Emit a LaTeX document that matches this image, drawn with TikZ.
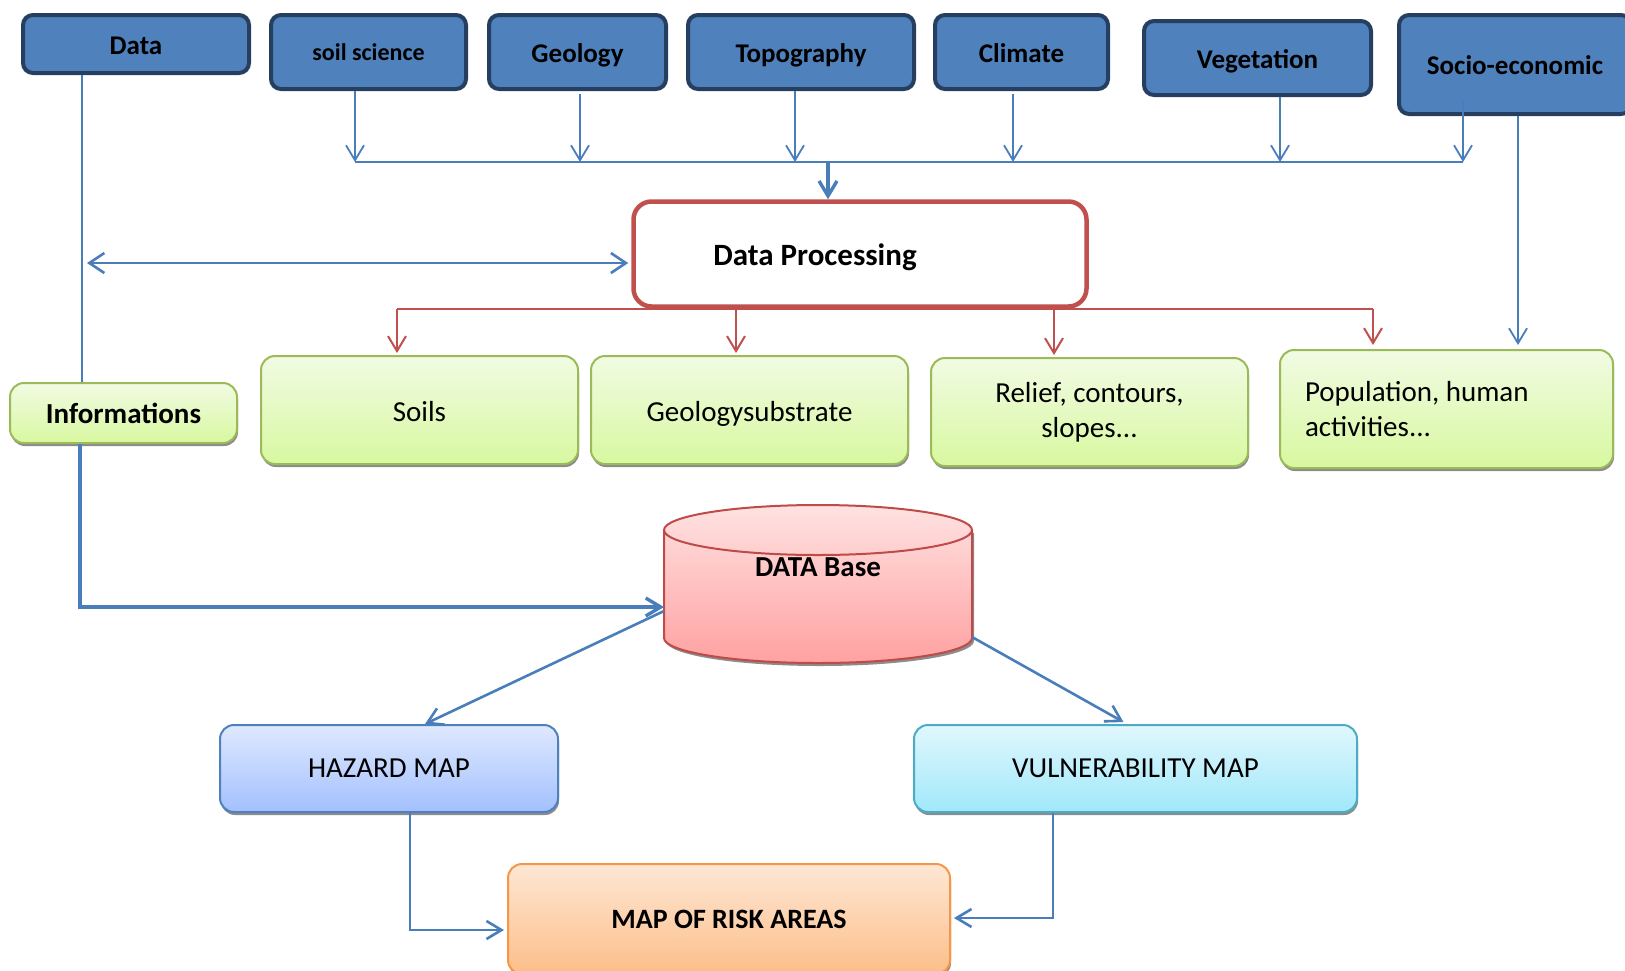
\documentclass[tikz,border=0pt]{standalone}
\usepackage{fontspec}
\setmainfont{Carlito}
\usetikzlibrary{arrows.meta,shadows}
\definecolor{topfill}{HTML}{4F81BD}
\definecolor{topborder}{HTML}{263F61}
\definecolor{lnblue}{HTML}{4A7EBB}
\definecolor{dpred}{HTML}{C0504D}
\definecolor{grnborder}{HTML}{9BBB59}
\definecolor{grntop}{HTML}{F1FBE3}
\definecolor{grnbot}{HTML}{D8F8A0}
\definecolor{dbtop}{HTML}{FFE2E2}
\definecolor{dbbot}{HTML}{FFA1A1}
\definecolor{dbborder}{HTML}{BE4B48}
\definecolor{haztop}{HTML}{DFE9FE}
\definecolor{hazbot}{HTML}{A3C0FE}
\definecolor{hazborder}{HTML}{4F81BD}
\definecolor{vultop}{HTML}{E1F7FD}
\definecolor{vulbot}{HTML}{A0E8FA}
\definecolor{vulborder}{HTML}{4BACC6}
\definecolor{risktop}{HTML}{FEE7D5}
\definecolor{riskbot}{HTML}{FCBE89}
\definecolor{riskborder}{HTML}{F79646}
\tikzset{
  topbox/.style={draw=topborder, fill=topfill, line width=4pt, rounded corners=10pt,
    inner sep=0pt, text height=24pt, text depth=4pt, font=\bfseries\fontsize{27}{32}\selectfont},
  shad/.style={drop shadow={shadow xshift=1pt, shadow yshift=-3pt, fill=black!45, opacity=1}},
  greenbox/.style={draw=grnborder, line width=2pt, rounded corners=14pt, top color=grntop,
    bottom color=grnbot, shad, inner sep=0pt, align=center, font=\fontsize{29}{35}\selectfont},
  mapbox/.style={line width=2pt, rounded corners=14pt, shad, inner sep=0pt,
    font=\fontsize{29}{35}\selectfont},
  barb/.style={-{Straight Barb[length=15pt,width=18pt]}},
  thinblue/.style={draw=lnblue, line width=1.8pt},
  midblue/.style={draw=lnblue, line width=2.6pt},
  thickblue/.style={draw=lnblue, line width=3.4pt},
  redln/.style={draw=dpred, line width=2pt},
}
\begin{document}
\begin{tikzpicture}[x=1pt,y=1pt]
\useasboundingbox (0,0) rectangle (1625,-970);
% top row
\node[topbox, minimum width=226pt, minimum height=58pt] (data) at (136,-44) {Data};
\node[topbox, minimum width=195pt, minimum height=74pt, font=\bfseries\fontsize{24}{28}\selectfont, text height=21pt, text depth=4pt] (soil) at (368.5,-52) {soil science};
\node[topbox, minimum width=177pt, minimum height=74pt] (geol) at (577.5,-52) {Geology};
\node[topbox, minimum width=226pt, minimum height=74pt] (topo) at (801,-52) {Topography};
\node[topbox, minimum width=173pt, minimum height=74pt] (clim) at (1021.5,-52) {Climate};
\node[topbox, minimum width=227pt, minimum height=74pt] (vege) at (1257.5,-58) {Vegetation};
\node[topbox, minimum width=232pt, minimum height=99pt] (socio) at (1515,-64.5) {Socio-economic};
% bus
\coordinate (b1) at (355,-162);
\coordinate (b2) at (580,-162);
\coordinate (b3) at (795,-162);
\coordinate (b4) at (1013,-162);
\coordinate (b5) at (1280,-162);
\coordinate (b6) at (1463,-162);
\coordinate (bm) at (828,-162);
\draw[thinblue, barb] (soil.south -| b1) -- (b1);
\draw[thinblue, barb] ([yshift=-3pt]geol.south -| b2) -- (b2);
\draw[thinblue, barb] (topo.south -| b3) -- (b3);
\draw[thinblue, barb] ([yshift=-3pt]clim.south -| b4) -- (b4);
\draw[thinblue, barb] (vege.south -| b5) -- (b5);
\draw[thinblue, barb] ([yshift=16pt]socio.south -| b6) -- (b6);
\draw[midblue] (b1) -- (b6);
% data processing
\node[draw=dpred, fill=white, line width=4.5pt, rounded corners=18pt, minimum width=453pt,
  minimum height=105pt, inner sep=0pt] (dp) at (860,-254) {};
\node[font=\bfseries\fontsize{31}{37}\selectfont, inner sep=0pt] (dptext) at (815,-257) {Data Processing};
\draw[thickblue, barb] (bm) -- (dp.north -| bm);
\coordinate (dleft) at (87,-263);
\draw[midblue, {Straight Barb[length=15pt,width=20pt]}-{Straight Barb[length=15pt,width=20pt]}, shorten >=3pt] (dleft) -- (dp.west |- dleft);
% green boxes
\node[greenbox, minimum width=227pt, minimum height=60pt, font=\bfseries\fontsize{29}{35}\selectfont] (inf) at (123.5,-413) {Informations};
\node[greenbox, minimum width=317pt, minimum height=108pt, text height=24pt, text depth=2pt] (soils) at (419.5,-410) {Soils};
\node[greenbox, minimum width=317pt, minimum height=108pt, text height=24pt, text depth=2pt] (geo) at (749.5,-410) {Geologysubstrate};
\node[greenbox, minimum width=317pt, minimum height=108pt] (relief) at (1089.5,-412) {Relief, contours,\\slopes...};
\node[greenbox, minimum width=333pt, minimum height=118pt, text width=283pt, align=flush left] (pop) at (1446.5,-409) {Population, human\\activities...};
% red connectors
\coordinate (r1) at (397,-309);
\coordinate (r2) at (736,-309);
\coordinate (r3) at (1054,-309);
\coordinate (r4) at (1373,-309);
\draw[redln] (r1) -- (r4);
\draw[redln, barb, shorten >=2pt] (r1) -- (soils.north -| r1);
\draw[redln, barb, shorten >=2pt] (r2) -- (geo.north -| r2);
\draw[redln, barb, shorten >=2pt] (r3) -- (relief.north -| r3);
\draw[redln, barb, shorten >=4pt] (r4) -- (pop.north -| r4);
% socio to population
\coordinate (sx) at (1518,0);
\draw[thinblue, barb, shorten >=4pt] (socio.south -| sx) -- (pop.north -| sx);
% data line
\coordinate (dx) at (82,0);
\draw[thinblue] (data.south -| dx) -- (inf.north -| dx);
% database cylinder
\fill[black!45] (666,-533) -- (666,-641) arc[start angle=180, end angle=360, x radius=154pt, y radius=25pt] -- (974,-533) -- cycle;
\path[draw=dbborder, line width=2pt, top color=dbtop, bottom color=dbbot]
  (664,-530) -- (664,-638) arc[start angle=180, end angle=360, x radius=154pt, y radius=25pt]
  -- (972,-530) arc[start angle=0, end angle=180, x radius=154pt, y radius=25pt] -- cycle;
\draw[dbborder, line width=2pt] (664,-530) arc[start angle=180, end angle=360, x radius=154pt, y radius=25pt];
\node[minimum width=308pt, minimum height=108pt, inner sep=0pt] (db) at (818,-584) {};
\node[font=\bfseries\fontsize{29}{35}\selectfont, inner sep=0pt] (dbtext) at (818,-567) {DATA Base};
% informations to database
\coordinate (ix) at (80,0);
\coordinate (dbin) at (664,-607);
\draw[thickblue, barb] (inf.south -| ix) |- (dbin);
% maps
\node[mapbox, draw=hazborder, top color=haztop, bottom color=hazbot, minimum width=338pt, minimum height=87pt] (haz) at (389,-768.5) {HAZARD MAP};
\node[mapbox, draw=vulborder, top color=vultop, bottom color=vulbot, minimum width=443pt, minimum height=87pt] (vul) at (1135.5,-768.5) {VULNERABILITY MAP};
\node[mapbox, draw=riskborder, top color=risktop, bottom color=riskbot, minimum width=442pt, minimum height=110pt, font=\bfseries\fontsize{28}{34}\selectfont] (risk) at (729,-919) {MAP OF RISK AREAS};
\coordinate (dbh) at (664,-611);
\coordinate (hx) at (425,0);
\draw[midblue, barb] (dbh) -- (haz.north -| hx);
\coordinate (dbv) at (972,-637);
\coordinate (vx) at (1127,0);
\draw[midblue, barb, shorten >=4pt] (dbv) -- (vul.north -| vx);
\coordinate (hr) at (410,0);
\coordinate (rly) at (0,-930);
\draw[midblue, barb, shorten >=3pt] (haz.south -| hr) |- (risk.west |- rly);
\coordinate (vr) at (1053,0);
\coordinate (ry2) at (0,-918);
\draw[midblue, barb, shorten >=3pt] (vul.south -| vr) |- (risk.east |- ry2);
\end{tikzpicture}
\end{document}
